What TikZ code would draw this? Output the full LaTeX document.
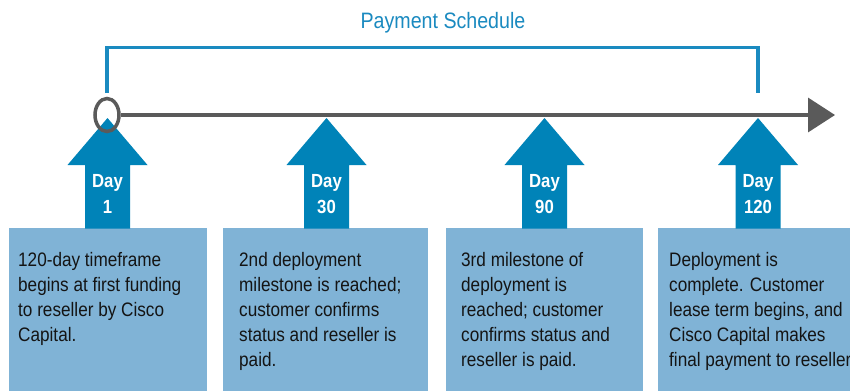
\documentclass[tikz,border=0pt]{standalone}
\usepackage{fontspec}
\setmainfont{Liberation Sans}[FakeStretch=0.88]
\usetikzlibrary{shapes.geometric,arrows.meta}
\definecolor{arrowblue}{HTML}{0083B8}
\definecolor{boxblue}{HTML}{80B3D6}
\definecolor{titleblue}{HTML}{1A8AC0}
\definecolor{axisgray}{HTML}{5A5A5A}
\definecolor{bodyink}{HTML}{141414}
\begin{document}
\begin{tikzpicture}[x=1pt,y=-1pt,
  bracketline/.style={draw=titleblue,line width=3.5pt},
  axisline/.style={draw=axisgray,line width=3.5pt},
  uparrow/.style={fill=arrowblue},
  daylbl/.style={text=white,font=\fontsize{19}{21}\selectfont\bfseries,anchor=base,inner sep=0},
  boxstyle/.style={fill=boxblue,draw=none,anchor=north west,minimum height=163pt,inner sep=0},
  bodytext/.style={text=bodyink,font=\fontsize{19.5}{25}\selectfont,anchor=base west,align=left,inner sep=0}]
\useasboundingbox (0,0) rectangle (850,391);
\fill[white] (0,0) rectangle (850,391);
% title and bracket
\node[text=titleblue,font=\fontsize{22.3}{26}\selectfont,anchor=base,inner sep=0] (title) at (443,28) {Payment Schedule};
\coordinate (bl) at (107,93);
\coordinate (br) at (758,93);
\draw[bracketline] (bl) -- (107,47.5) -- (758,47.5) -- (br);
% boxes
\node[boxstyle,minimum width=198pt] (box1) at (9,228) {};
\node[boxstyle,minimum width=205pt] (box2) at (223,228) {};
\node[boxstyle,minimum width=197pt] (box3) at (446,228) {};
\node[boxstyle,minimum width=200pt] (box4) at (658,228) {};
% up arrows
\foreach \x/\d/\n in {107.5/1/a, 326.5/30/b, 544.5/90/c, 758/120/d} {
  \fill[uparrow] (\x,118) -- (\x+40,165) -- (\x+22.5,165) -- (\x+22.5,228.5) -- (\x-22.5,228.5) -- (\x-22.5,165) -- (\x-40,165) -- cycle;
  \node[daylbl] (day\n) at (\x,187) {Day};
  \node[daylbl] (num\n) at (\x,213) {\d};
}
% axis
\node[draw=axisgray,line width=3.5pt,ellipse,minimum width=24pt,minimum height=33pt,inner sep=0] (start) at (107,115) {};
\coordinate (axisend) at (835,115);
\draw[axisline,-{Triangle[length=27pt,width=34pt]}] (start.east) -- (axisend);
% texts (base anchor = baseline of the last line)
\node[bodytext] (t1) at (18,341) {120-day timeframe\\begins at first funding\\to reseller by Cisco\\Capital.};
\node[bodytext] (t2) at (239,366) {2nd deployment\\milestone is reached;\\customer confirms\\status and reseller is\\paid.};
\node[bodytext] (t3) at (461,366) {3rd milestone of\\deployment is\\reached; customer\\confirms status and\\reseller is paid.};
\node[bodytext] (t4) at (669,366) {Deployment is\\complete. Customer\\lease term begins, and\\Cisco Capital makes\\final payment to reseller.};
\end{tikzpicture}
\end{document}
